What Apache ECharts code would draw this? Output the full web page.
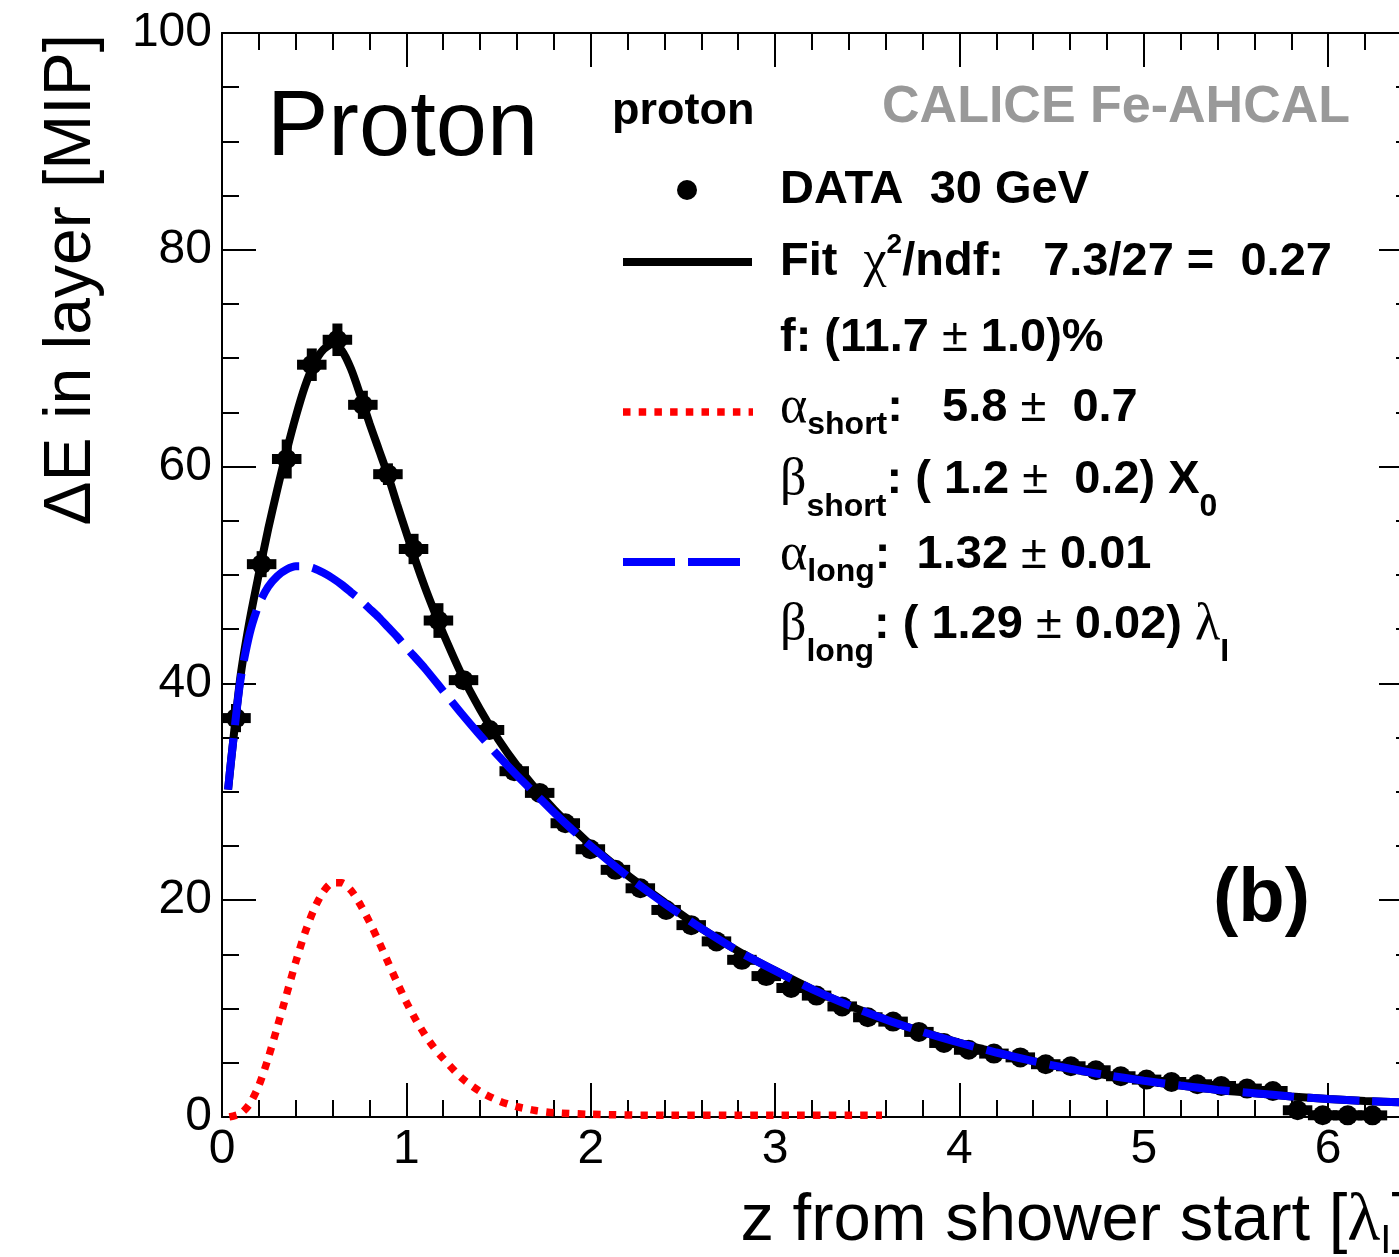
<!DOCTYPE html>
<html>
<head>
<meta charset="utf-8">
<script src="https://cdn.jsdelivr.net/npm/echarts@6/dist/echarts.min.js"></script>
<style>
    html, body { margin: 0; padding: 0; background: #fff; }
    #main { width: 1399px; height: 1257px; }
</style>
</head>
<body>
<div id="main"></div>
<script>
// data points: layer position (lambda_I), energy per layer (MIP), stat. error
var layerZ = [0.076, 0.215, 0.351, 0.487, 0.626, 0.764, 0.900, 1.039, 1.174, 1.310,
              1.451, 1.585, 1.723, 1.862, 1.998, 2.134, 2.269, 2.409, 2.545, 2.682,
              2.820, 2.952, 3.087, 3.225, 3.364, 3.503, 3.640, 3.780, 3.916, 4.050,
              4.187, 4.330, 4.468, 4.604, 4.740, 4.875, 5.015, 5.150, 5.290, 5.420,
              5.560, 5.700, 5.834, 5.970, 6.106, 6.240];
var layerE = [36.8, 51.0, 60.7, 69.4, 71.7, 65.7, 59.3, 52.4, 45.8, 40.3,
              35.7, 31.9, 29.9, 27.1, 24.7, 22.8, 21.1, 19.1, 17.7, 16.2,
              14.5, 13.0, 11.9, 11.2, 10.2, 9.2, 8.8, 7.85, 6.83, 6.2,
              5.85, 5.5, 4.87, 4.68, 4.31, 3.76, 3.45, 3.23, 3.02, 2.86,
              2.62, 2.4, 0.62, 0.16, 0.15, 0.15];
var layerErr = [1.3, 1.2, 1.8, 1.5, 1.5, 1.3, 1.0, 1.4, 1.6, 0.8,
                0.8, 0.5, 0.4, 0.4, 0.4, 0.35, 0.35, 0.3, 0.3, 0.3,
                0.3, 0.3, 0.3, 0.3, 0.3, 0.3, 0.3, 0.3, 0.3, 0.3,
                0.3, 0.3, 0.3, 0.3, 0.3, 0.3, 0.3, 0.3, 0.3, 0.3,
                0.3, 0.3, 0.3, 0.3, 0.3, 0.3];

// fit: total
var fitZ = [0.033, 0.05, 0.1, 0.15, 0.2, 0.25, 0.3, 0.35, 0.4, 0.45,
            0.5, 0.55, 0.6, 0.65, 0.7, 0.75, 0.8, 0.85, 0.9, 0.95,
            1.0, 1.05, 1.1, 1.15, 1.2, 1.3, 1.4, 1.5, 1.6, 1.7,
            1.8, 1.9, 2.0, 2.2, 2.4, 2.6, 2.8, 3.0, 3.2, 3.4,
            3.6, 3.8, 4.0, 4.2, 4.4, 4.6, 4.8, 5.0, 5.2, 5.4,
            5.6, 5.8, 6.0, 6.2, 6.4, 6.5];
var fitE = [30.2, 33.0, 40.6, 45.8, 50.1, 54.2, 57.9, 61.4, 64.6, 67.4,
            69.5, 70.8, 71.3, 70.7, 69.0, 66.6, 64.0, 61.6, 59.2, 56.5,
            53.9, 51.3, 48.9, 46.7, 44.6, 40.8, 37.6, 34.8, 32.4, 30.3,
            28.4, 26.7, 25.1, 22.3, 19.8, 17.4, 15.3, 13.5, 11.8, 10.3,
            9.0, 7.85, 6.85, 5.95, 5.15, 4.45, 3.85, 3.35, 2.9, 2.5,
            2.2, 1.9, 1.65, 1.48, 1.35, 1.3];

// fit: long component
var longZ = [0.033, 0.05, 0.1, 0.15, 0.2, 0.25, 0.3, 0.35, 0.4, 0.45,
             0.5, 0.55, 0.6, 0.65, 0.7, 0.75, 0.8, 0.85, 0.9, 0.95,
             1.0, 1.1, 1.2, 1.3, 1.4, 1.5, 1.6, 1.7, 1.8, 1.9,
             2.0, 2.2, 2.4, 2.6, 2.8, 3.0, 3.2, 3.4, 3.6, 3.8,
             4.0, 4.2, 4.4, 4.6, 4.8, 5.0, 5.2, 5.4, 5.6, 5.8,
             6.0, 6.2, 6.4, 6.5];
var longE = [30.2, 33.0, 40.3, 44.6, 47.3, 48.9, 49.9, 50.5, 50.8, 50.8,
             50.6, 50.2, 49.7, 49.1, 48.4, 47.7, 46.9, 46.1, 45.2, 44.3,
             43.3, 41.4, 39.3, 37.2, 35.2, 33.3, 31.5, 29.8, 28.1, 26.5,
             25.0, 22.2, 19.7, 17.4, 15.3, 13.5, 11.8, 10.3, 9.0, 7.85,
             6.85, 5.95, 5.15, 4.45, 3.85, 3.35, 2.9, 2.5, 2.2, 1.9,
             1.65, 1.48, 1.35, 1.3];

// fit: short component
var shortZ = [0.04, 0.1, 0.15, 0.2, 0.25, 0.3, 0.35, 0.4, 0.45, 0.5,
              0.55, 0.6, 0.65, 0.7, 0.75, 0.8, 0.85, 0.9, 0.95, 1.0,
              1.05, 1.1, 1.15, 1.2, 1.3, 1.4, 1.5, 1.6, 1.7, 1.8,
              2.0, 2.4, 3.0, 3.58];
var shortE = [0, 0.3, 1.2, 2.9, 5.4, 8.3, 11.3, 14.3, 17.0, 19.2,
              20.8, 21.6, 21.6, 20.9, 19.6, 18.0, 16.2, 14.3, 12.4, 10.6,
              9.0, 7.6, 6.4, 5.4, 3.6, 2.35, 1.5, 0.95, 0.6, 0.4,
              0.25, 0.15, 0.15, 0.15];

var SANS = '"Liberation Sans", Arial, Helvetica, sans-serif';
var SERIF = '"Liberation Serif", "DejaVu Serif", serif';
var XMAX = 6.46;
var BIN_HALF = 0.08;

function pairs(a, b) {
    return a.map(function (v, i) { return [v, b[i]]; });
}

var myChart = echarts.init(document.getElementById('main'));

var AX = { color: '#000', width: 2 };

function xAx(pos, major, extra) {
    var o = {
        type: 'value', position: pos, min: 0, max: XMAX,
        interval: major ? 1 : 0.2,
        axisLine: { show: major, onZero: false, lineStyle: AX },
        axisTick: { show: true, inside: true, length: major ? 34 : 17, lineStyle: AX },
        axisLabel: { show: false },
        splitLine: { show: false }
    };
    return Object.assign(o, extra || {});
}

var rich = {
    b: { fontFamily: SANS, fontWeight: 'bold', fontSize: 47, fill: '#000' },
    g: { fontFamily: SERIF, fontWeight: 'normal', fontSize: 52, fill: '#000' },
    pm: { fontFamily: SANS, fontWeight: 'normal', fontSize: 47, fill: '#000' },
    sup: { fontFamily: SANS, fontWeight: 'bold', fontSize: 28, fill: '#000', padding: [0, 0, 34, 0] },
    s1: { fontFamily: SANS, fontWeight: 'bold', fontSize: 32, fill: '#000', padding: [34, 0, 0, 0] },
    s2: { fontFamily: SANS, fontWeight: 'bold', fontSize: 32, fill: '#000', padding: [54, 0, 0, 0] }
};

function legText(y, text) {
    return {
        type: 'text', x: 780, y: y, z: 100,
        style: { text: text, rich: rich, fontFamily: SANS, fontWeight: 'bold', fontSize: 47, fill: '#000',
                 align: 'left', verticalAlign: 'middle', textAlign: 'left', textVerticalAlign: 'middle' }
    };
}

var lineCommon = { showSymbol: false, smooth: 0.25, xAxisIndex: 0, yAxisIndex: 0 };

myChart.setOption({
    animation: false,
    backgroundColor: '#fff',
    grid: { left: 222, top: 33, right: -14, bottom: 140, containLabel: false, outerBoundsMode: 'none' },
    xAxis: [
        xAx('bottom', true, {
            axisLabel: { show: true, fontSize: 48, color: '#000', fontFamily: SANS, margin: 9, showMaxLabel: false }
        }),
        xAx('top', true),
        xAx('bottom', false),
        xAx('top', false)
    ],
    yAxis: [
        {
            type: 'value', position: 'left', min: 0, max: 100, interval: 20,
            axisLine: { show: true, onZero: false, lineStyle: AX },
            axisTick: { inside: true, length: 34, lineStyle: AX },
            minorTick: { show: true, splitNumber: 4, length: 17, lineStyle: AX },
            axisLabel: { fontSize: 48, color: '#000', fontFamily: SANS, margin: 10 },
            splitLine: { show: false }
        },
        {
            type: 'value', position: 'right', min: 0, max: 100, interval: 20,
            axisLine: { show: true, onZero: false, lineStyle: AX },
            axisTick: { inside: true, length: 34, lineStyle: AX },
            minorTick: { show: true, splitNumber: 4, length: 17, lineStyle: AX },
            axisLabel: { show: false },
            splitLine: { show: false }
        }
    ],
    series: [
        {
            type: 'custom',
            name: 'DATA 30 GeV',
            xAxisIndex: 0, yAxisIndex: 0,
            data: layerZ.map(function (z, i) { return [z, layerE[i], layerErr[i]]; }),
            renderItem: function (params, api) {
                var z = api.value(0), e = api.value(1), err = api.value(2);
                var c = api.coord([z, e]);
                var l = api.coord([z - BIN_HALF, e]);
                var r = api.coord([z + BIN_HALF, e]);
                var t = api.coord([z, e + err]);
                var b = api.coord([z, e - err]);
                var st = { stroke: '#000', lineWidth: 10 };
                return {
                    type: 'group',
                    children: [
                        { type: 'line', shape: { x1: l[0], y1: c[1], x2: r[0], y2: c[1] }, style: st },
                        { type: 'line', shape: { x1: c[0], y1: t[1], x2: c[0], y2: b[1] }, style: st },
                        { type: 'circle', shape: { cx: c[0], cy: c[1], r: 10 }, style: { fill: '#000' } }
                    ]
                };
            }
        },
        Object.assign({
            type: 'line', name: 'Fit', data: pairs(fitZ, fitE),
            lineStyle: { color: '#000', width: 8 }
        }, lineCommon),
        Object.assign({
            type: 'line', name: 'short', data: pairs(shortZ, shortE),
            lineStyle: { color: '#ff0000', width: 7.5, type: [7.5, 8.2], cap: 'butt' }
        }, lineCommon),
        Object.assign({
            type: 'line', name: 'long', data: pairs(longZ, longE),
            lineStyle: { color: '#0000ff', width: 8, type: [52, 13], cap: 'butt' }
        }, lineCommon)
    ],
    graphic: [
        // axis titles
        {
            type: 'text', x: 72, y: 34, rotation: Math.PI / 2, z: 100,
            style: { text: 'ΔE in layer [MIP]', fontFamily: SANS, fontSize: 66, fill: '#000',
                     align: 'right', verticalAlign: 'middle', textAlign: 'right', textVerticalAlign: 'middle' }
        },
        {
            type: 'text', x: 1410, y: 1222, z: 100,
            style: {
                text: '{t|z from shower start [}{g|λ}{sub|I}{t|]}',
                rich: {
                    t: { fontFamily: SANS, fontSize: 67, fill: '#000' },
                    g: { fontFamily: SERIF, fontSize: 68, fill: '#000' },
                    sub: { fontFamily: SANS, fontSize: 40, fill: '#000', padding: [40, 0, 0, 0] }
                },
                fontFamily: SANS, fontSize: 67, fill: '#000',
                align: 'right', verticalAlign: 'middle', textAlign: 'right', textVerticalAlign: 'middle'
            }
        },
        // labels inside the frame
        {
            type: 'text', x: 267, y: 130, z: 100,
            style: { text: 'Proton', fontFamily: SANS, fontSize: 92, fill: '#000',
                     align: 'left', verticalAlign: 'middle', textAlign: 'left', textVerticalAlign: 'middle' }
        },
        {
            type: 'text', x: 612, y: 112, z: 100,
            style: { text: 'proton', fontFamily: SANS, fontWeight: 'bold', fontSize: 45, fill: '#000',
                     align: 'left', verticalAlign: 'middle', textAlign: 'left', textVerticalAlign: 'middle' }
        },
        {
            type: 'text', x: 1350, y: 108, z: 100,
            style: { text: 'CALICE Fe-AHCAL', fontFamily: SANS, fontWeight: 'bold', fontSize: 52, fill: '#999999',
                     align: 'right', verticalAlign: 'middle', textAlign: 'right', textVerticalAlign: 'middle' }
        },
        {
            type: 'text', x: 1213, y: 900, z: 100,
            style: { text: '(b)', fontFamily: SANS, fontWeight: 'bold', fontSize: 76, fill: '#000',
                     align: 'left', verticalAlign: 'middle', textAlign: 'left', textVerticalAlign: 'middle' }
        },
        // legend symbols
        { type: 'circle', z: 100, shape: { cx: 687, cy: 190, r: 10 }, style: { fill: '#000' } },
        { type: 'line', z: 100, shape: { x1: 623, y1: 262, x2: 752, y2: 262 }, style: { stroke: '#000', lineWidth: 8 } },
        { type: 'line', z: 100, shape: { x1: 623, y1: 412, x2: 753, y2: 412 },
          style: { stroke: '#ff0000', lineWidth: 7.5, lineDash: [7.5, 8.2] } },
        { type: 'line', z: 100, shape: { x1: 623, y1: 562, x2: 741, y2: 562 },
          style: { stroke: '#0000ff', lineWidth: 8, lineDash: [52, 13] } },
        // legend texts
        legText(190, '{b|DATA  30 GeV}'),
        legText(262, '{b|Fit  }{g|χ}{sup|2}{b|/ndf:   7.3/27 =  0.27}'),
        legText(338, '{b|f: (11.7 }{pm|±}{b| 1.0)%}'),
        legText(408, '{g|α}{s1|short}{b|:   5.8 }{pm|±}{b|  0.7}'),
        legText(480, '{g|β}{s2|short}{b|: ( 1.2 }{pm|±}{b|  0.2) X}{s2|0}'),
        legText(555, '{g|α}{s1|long}{b|:  1.32 }{pm|±}{b| 0.01}'),
        legText(625, '{g|β}{s2|long}{b|: ( 1.29 }{pm|±}{b| 0.02) }{g|λ}{s2|I}')
    ]
});
</script>
</body>
</html>
